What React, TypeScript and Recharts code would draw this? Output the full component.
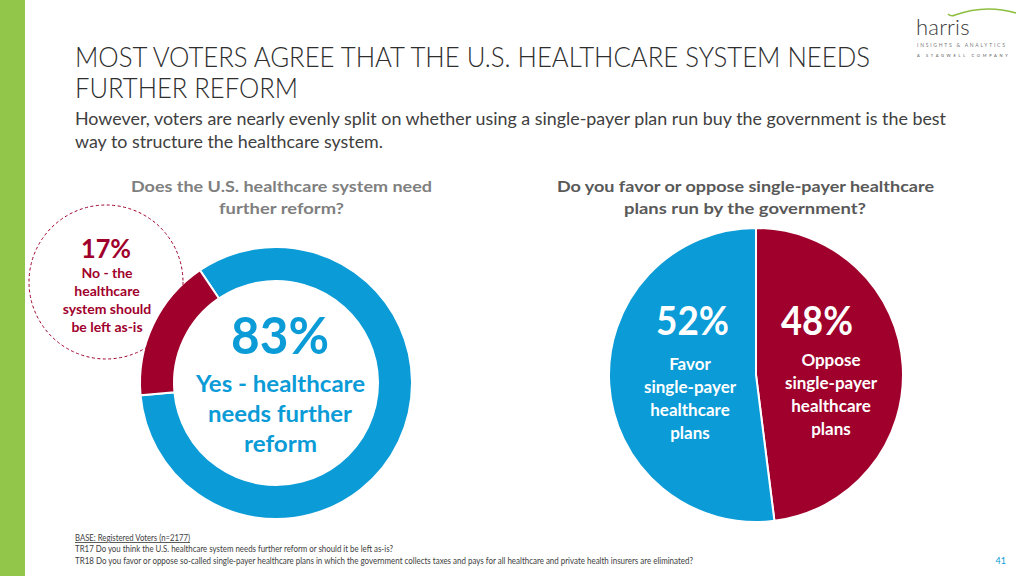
import React from "react";
import { PieChart, Pie, Cell } from "recharts";

const BLUE = "#0B9BD7";
const RED = "#A0002C";
const GREEN = "#92C64A";

const reformCategories = ["Yes - healthcare needs further reform", "No - the healthcare system should be left as-is"];
const reformValues = [83, 17];
const reformColors = [BLUE, RED];

const singlePayerCategories = ["Oppose single-payer healthcare plans", "Favor single-payer healthcare plans"];
const singlePayerValues = [48, 52];
const singlePayerColors = [RED, BLUE];

const titleLines = ["MOST VOTERS AGREE THAT THE U.S. HEALTHCARE SYSTEM NEEDS", "FURTHER REFORM"];
const subtitleLines = [
  "However, voters are nearly evenly split on whether using a single-payer plan run buy the government is the best",
  "way to structure the healthcare system.",
];
const leftQuestion = ["Does the U.S. healthcare system need", "further reform?"];
const rightQuestion = ["Do you favor or oppose single-payer healthcare", "plans run by the government?"];
const yesLabel = ["Yes - healthcare", "needs further", "reform"];
const noLabel = ["No - the", "healthcare", "system should", "be left as-is"];
const favorLabel = ["Favor", "single-payer", "healthcare", "plans"];
const opposeLabel = ["Oppose", "single-payer", "healthcare", "plans"];
const footerLines = [
  "BASE: Registered Voters (n=2177)",
  "TR17 Do you think the U.S. healthcare system needs further reform or should it be left as-is?",
  "TR18 Do you favor or oppose so-called single-payer healthcare plans in which the government collects taxes and pays for all healthcare and private health insurers are eliminated?",
];
const pageNumber = "41";
const logoLines = ["harris", "INSIGHTS & ANALYTICS", "A STAGWELL COMPANY"];

const reformData = reformCategories.map((name, i) => ({ name, value: reformValues[i] }));
const singlePayerData = singlePayerCategories.map((name, i) => ({ name, value: singlePayerValues[i] }));

const FONT = "Lato, 'Open Sans', sans-serif";

export default function App() {
  return (
    <div style={{ position: "fixed", left: 0, top: 0, width: 1024, height: 576, background: "#fff", overflow: "hidden", fontFamily: FONT }}>
      <div style={{ position: "absolute", left: 0, top: 0, width: 25, height: 576, background: GREEN }} />
      <div style={{ position: "absolute", left: 0, top: 0 }}>
        <PieChart width={1024} height={576} margin={{ top: 0, right: 0, bottom: 0, left: 0 }}>
          <Pie
            data={reformData}
            dataKey="value"
            nameKey="name"
            cx={276}
            cy={383}
            innerRadius={102}
            outerRadius={136}
            startAngle={185.2}
            endAngle={545.2}
            stroke="#fff"
            strokeWidth={2}
            isAnimationActive={false}
          >
            {reformData.map((d, i) => (
              <Cell key={d.name} fill={reformColors[i]} />
            ))}
          </Pie>
          <Pie
            data={singlePayerData}
            dataKey="value"
            nameKey="name"
            cx={756}
            cy={375}
            innerRadius={0}
            outerRadius={147}
            startAngle={90}
            endAngle={-270}
            stroke="#fff"
            strokeWidth={2}
            isAnimationActive={false}
          >
            {singlePayerData.map((d, i) => (
              <Cell key={d.name} fill={singlePayerColors[i]} />
            ))}
          </Pie>
        </PieChart>
      </div>
      <svg width={1024} height={576} style={{ position: "absolute", left: 0, top: 0, pointerEvents: "none" }} fontFamily={FONT}>
        {/* Title */}
        <text x={75} y={67} fontSize={28} fontWeight={300} fill="#2E2E2E" textLength={795} lengthAdjust="spacingAndGlyphs">{titleLines[0]}</text>
        <text x={75} y={98} fontSize={28} fontWeight={300} fill="#2E2E2E" textLength={223} lengthAdjust="spacingAndGlyphs">{titleLines[1]}</text>
        <text x={75} y={125} fontSize={16.5} fill="#404040" textLength={871} lengthAdjust="spacingAndGlyphs">{subtitleLines[0]}</text>
        <text x={75} y={148} fontSize={16.5} fill="#404040" textLength={308} lengthAdjust="spacingAndGlyphs">{subtitleLines[1]}</text>

        {/* Questions */}
        <text x={281.5} y={192} fontSize={16} fontWeight={700} fill="#7F7F7F" textAnchor="middle" textLength={301} lengthAdjust="spacingAndGlyphs">{leftQuestion[0]}</text>
        <text x={281.5} y={214} fontSize={16} fontWeight={700} fill="#7F7F7F" textAnchor="middle" textLength={125} lengthAdjust="spacingAndGlyphs">{leftQuestion[1]}</text>
        <text x={745.5} y={192} fontSize={16} fontWeight={700} fill="#595959" textAnchor="middle" textLength={377} lengthAdjust="spacingAndGlyphs">{rightQuestion[0]}</text>
        <text x={745} y={214} fontSize={16} fontWeight={700} fill="#595959" textAnchor="middle" textLength={242} lengthAdjust="spacingAndGlyphs">{rightQuestion[1]}</text>

        {/* Donut center label */}
        <text x={280} y={354} fontSize={52} fontWeight={700} fill={BLUE} textAnchor="middle" textLength={98} lengthAdjust="spacingAndGlyphs">{`${reformValues[0]}%`}</text>
        <text x={280.5} y={392} fontSize={23} fontWeight={700} fill={BLUE} textAnchor="middle" textLength={169} lengthAdjust="spacingAndGlyphs">{yesLabel[0]}</text>
        <text x={280} y={422} fontSize={23} fontWeight={700} fill={BLUE} textAnchor="middle" textLength={144} lengthAdjust="spacingAndGlyphs">{yesLabel[1]}</text>
        <text x={280.5} y={452} fontSize={23} fontWeight={700} fill={BLUE} textAnchor="middle" textLength={73} lengthAdjust="spacingAndGlyphs">{yesLabel[2]}</text>

        {/* Dashed callout */}
        <circle cx={106} cy={282} r={77} fill="none" stroke={RED} strokeWidth={1} strokeDasharray="3 2.5" />
        <text x={106} y={258} fontSize={27} fontWeight={700} fill={RED} textAnchor="middle" textLength={50} lengthAdjust="spacingAndGlyphs">{`${reformValues[1]}%`}</text>
        {noLabel.map((t, i) => (
          <text key={t} x={107} y={278 + i * 18} fontSize={14} fontWeight={700} fill={RED} textAnchor="middle">{t}</text>
        ))}

        {/* Pie labels */}
        <text x={692.5} y={335} fontSize={40} fontWeight={700} fill="#fff" textAnchor="middle" textLength={73} lengthAdjust="spacingAndGlyphs">{`${singlePayerValues[1]}%`}</text>
        {favorLabel.map((t, i) => (
          <text key={"f" + i} x={690} y={370 + i * 23} fontSize={17} fontWeight={700} fill="#fff" textAnchor="middle">{t}</text>
        ))}
        <text x={817} y={335} fontSize={40} fontWeight={700} fill="#fff" textAnchor="middle" textLength={72} lengthAdjust="spacingAndGlyphs">{`${singlePayerValues[0]}%`}</text>
        {opposeLabel.map((t, i) => (
          <text key={"o" + i} x={831} y={366 + i * 23} fontSize={17} fontWeight={700} fill="#fff" textAnchor="middle">{t}</text>
        ))}

        {/* Footer */}
        <text x={75} y={541} fontSize={8.5} fill="#404040" textDecoration="underline" textLength={115} lengthAdjust="spacingAndGlyphs">{footerLines[0]}</text>
        <text x={75} y={552} fontSize={8.5} fill="#404040" textLength={318} lengthAdjust="spacingAndGlyphs">{footerLines[1]}</text>
        <text x={75} y={564} fontSize={8.5} fill="#404040" textLength={618} lengthAdjust="spacingAndGlyphs">{footerLines[2]}</text>
        <text x={1006} y={564} fontSize={9} fill={BLUE} textAnchor="end">{pageNumber}</text>

        {/* Logo arc */}
        <path d="M948 14 Q951 17 955 15 Q985 4 1016 13" fill="none" stroke="#8DBE3F" strokeWidth={1.6} />
      </svg>
      {/* Logo wordmark */}
      <div style={{ position: "absolute", left: 916, top: 16, fontSize: 22, lineHeight: "22px", fontWeight: 300, color: "#3A3A3A", whiteSpace: "nowrap", letterSpacing: 0.2 }}>{logoLines[0]}</div>
      <div style={{ position: "absolute", left: 917, top: 43, fontSize: 5, lineHeight: "5px", color: "#7A7A7A", whiteSpace: "nowrap", letterSpacing: 1.75 }}>{logoLines[1]}</div>
      <div style={{ position: "absolute", left: 917, top: 53.5, fontSize: 4, lineHeight: "4px", color: "#555", whiteSpace: "nowrap", letterSpacing: 2.7 }}>{logoLines[2]}</div>
    </div>
  );
}
